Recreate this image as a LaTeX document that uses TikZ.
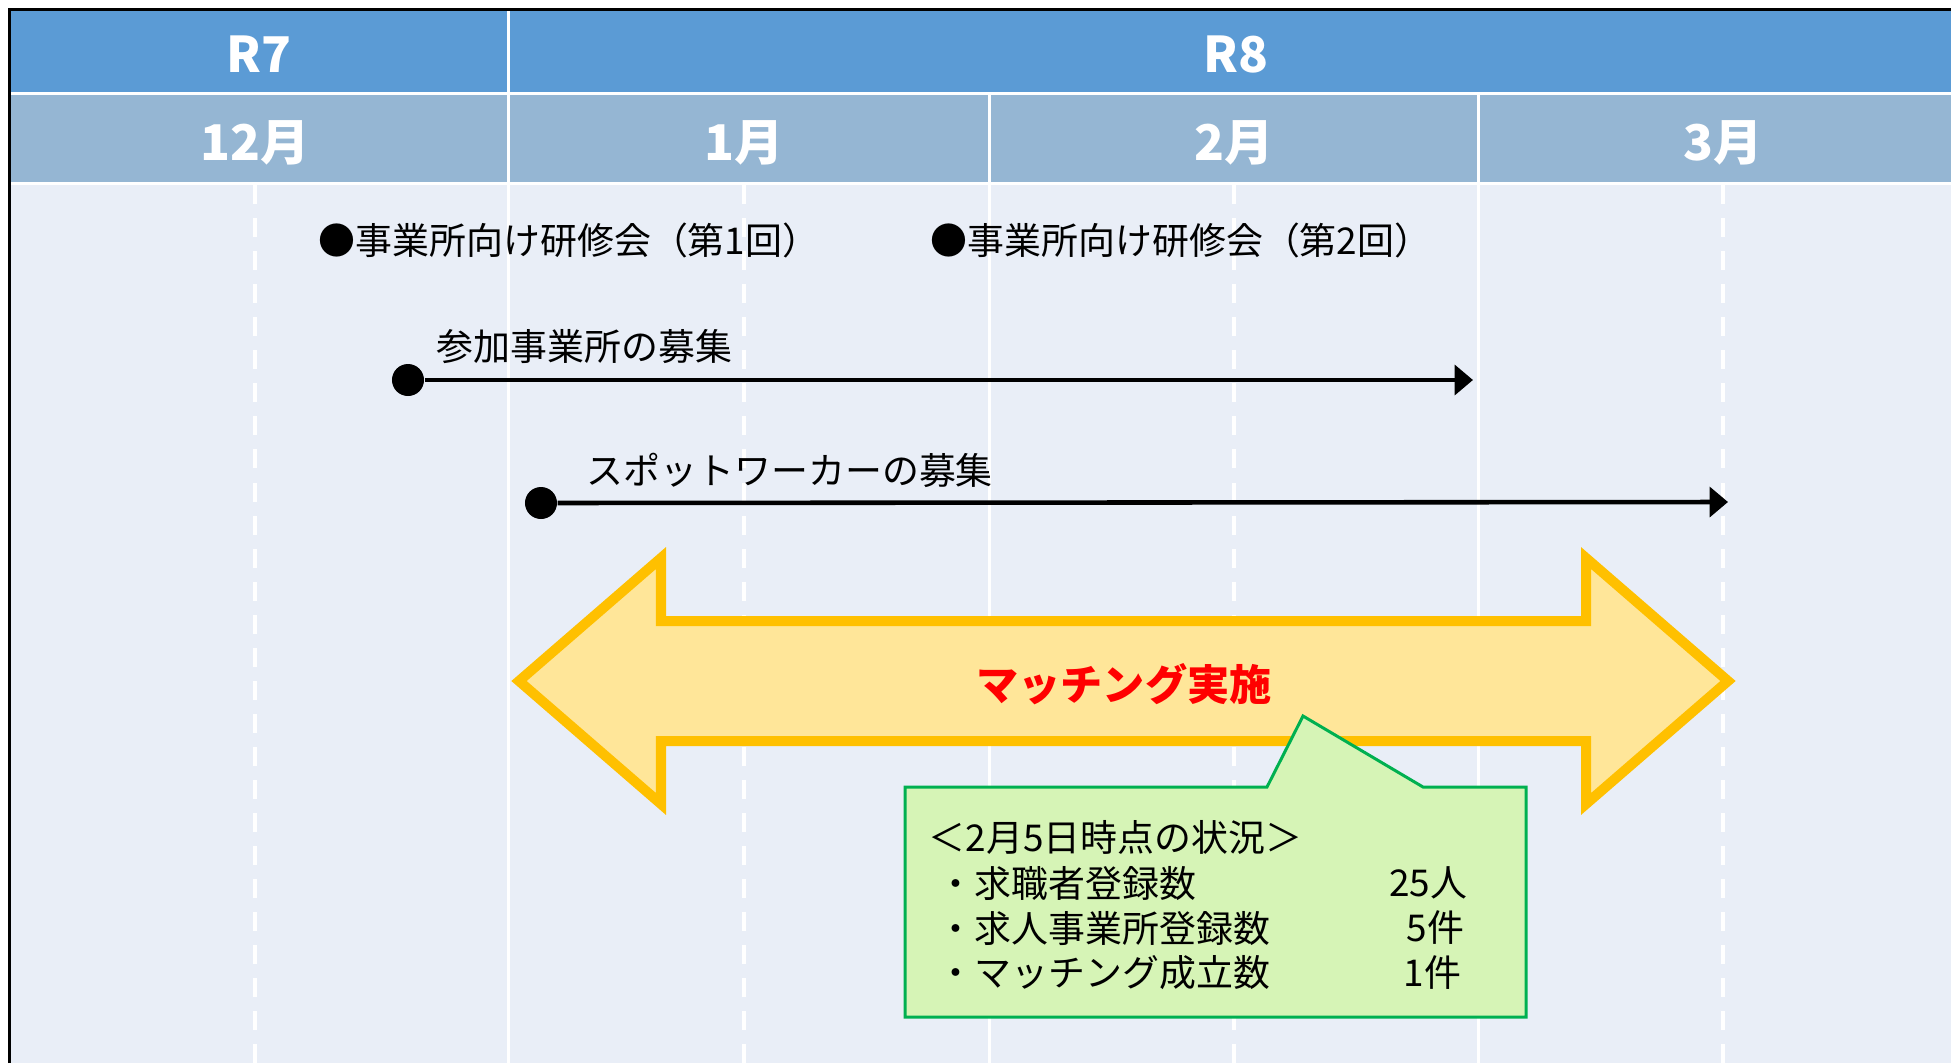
\documentclass[tikz,border=0pt]{standalone}
\usepackage{fontspec}
\setmainfont{Noto Sans CJK JP}
\usetikzlibrary{positioning, arrows.meta}
\definecolor{yearblue}{RGB}{91,155,213}
\definecolor{monthblue}{RGB}{149,182,211}
\definecolor{bodybg}{RGB}{233,238,247}
\definecolor{arrowgold}{RGB}{255,192,0}
\definecolor{arrowbg}{RGB}{255,230,153}
\definecolor{notegreen}{RGB}{0,176,80}
\definecolor{notebg}{RGB}{214,244,182}

\begin{document}
\begin{tikzpicture}[x=0.01cm, y=-0.01cm,
  head/.style={font=\fontsize{14}{16}\selectfont\bfseries, text=white, inner sep=0pt},
  evt/.style={font=\fontsize{10.5}{12}\selectfont, anchor=west, inner sep=0pt},
  dot/.style={circle, fill=black, inner sep=0pt, minimum size=0.32cm},
  arr/.style={-{Triangle[length=5.2pt, width=8.4pt]}, line width=1.3pt},
  sep/.style={white, line width=0.85pt},
  guide/.style={white, line width=1.4pt, dash pattern=on 5.4pt off 4pt},
  band/.style={draw=arrowgold, fill=arrowbg, line width=2.85pt, miter limit=10},
  note/.style={draw=notegreen, fill=notebg, line width=0.85pt},
  notetext/.style={font=\fontsize{10.5}{12}\selectfont, inner sep=0pt}
]
  \useasboundingbox (0,0) rectangle (1951,1063);
  \fill[white] (0,0) rectangle (1951,1063);

  % table background
  \fill[bodybg]    (11,185) rectangle (1951,1063);
  \fill[yearblue]  (11,11)  rectangle (1951,92);
  \fill[monthblue] (11,95)  rectangle (1951,182);
  \draw[black, line width=0.85pt] (9.5,1063) -- (9.5,9.5) -- (1951,9.5);
  \draw[sep] (508,11) -- (508,1063);
  \foreach \x in {989,1478}
    \draw[sep] (\x,95) -- (\x,1063);
  \foreach \x in {255,744,1234,1723}
    \draw[guide] (\x,185) -- (\x,1063);

  \node[head] (r7) at (259,54) {R7};
  \node[head] (r8) at (1236,54) {R8};
  \foreach \x/\m in {255/12,744/1,1234/2,1723/3}
    \node[head] (m\m) at (\x,143) {\m 月};

  % events
  \node[evt] (train1) at (318,240) {●事業所向け研修会（第1回）};
  \node[evt] (train2) at (930,240) {●事業所向け研修会（第2回）};

  \node[dot] (office) at (408,380) {};
  \coordinate (officeend) at (1473,380);
  \draw[arr] (office) -- (officeend);
  \node[evt] (officelbl) at (436,347) {参加事業所の募集};

  \node[dot] (worker) at (541,503) {};
  \coordinate (workerend) at (1728,502);
  \draw[arr] (worker) -- (workerend);
  \node[evt] (workerlbl) at (586,470) {スポットワーカーの募集};

  % matching period
  \draw[band] (519,681) -- (661,558) -- (661,621) -- (1586,621) -- (1586,558)
    -- (1728,681) -- (1586,804) -- (1586,741) -- (661,741) -- (661,804) -- cycle;
  \node[font=\fontsize{12}{14}\selectfont\bfseries, text=red] (match) at (1124,684) {マッチング実施};

  % status callout
  \draw[note] (905,787) -- (1267,787) -- (1303,716) -- (1423,787) -- (1526,787)
    -- (1526,1017) -- (905,1017) -- cycle;
  \node[notetext, anchor=west] (status) at (928,837) {＜2月5日時点の状況＞};
  \node[notetext, anchor=west] (seeker)  at (937,883) {・求職者登録数};
  \node[notetext, anchor=west] (offices) at (937,928) {・求人事業所登録数};
  \node[notetext, anchor=west] (matched) at (937,973) {・マッチング成立数};
  \node[notetext, anchor=east] (seekern)  at (1468,883) {25人};
  \node[notetext, anchor=east] (officesn) at (1465,928) {5件};
  \node[notetext, anchor=east] (matchedn) at (1462,973) {1件};
\end{tikzpicture}
\end{document}
